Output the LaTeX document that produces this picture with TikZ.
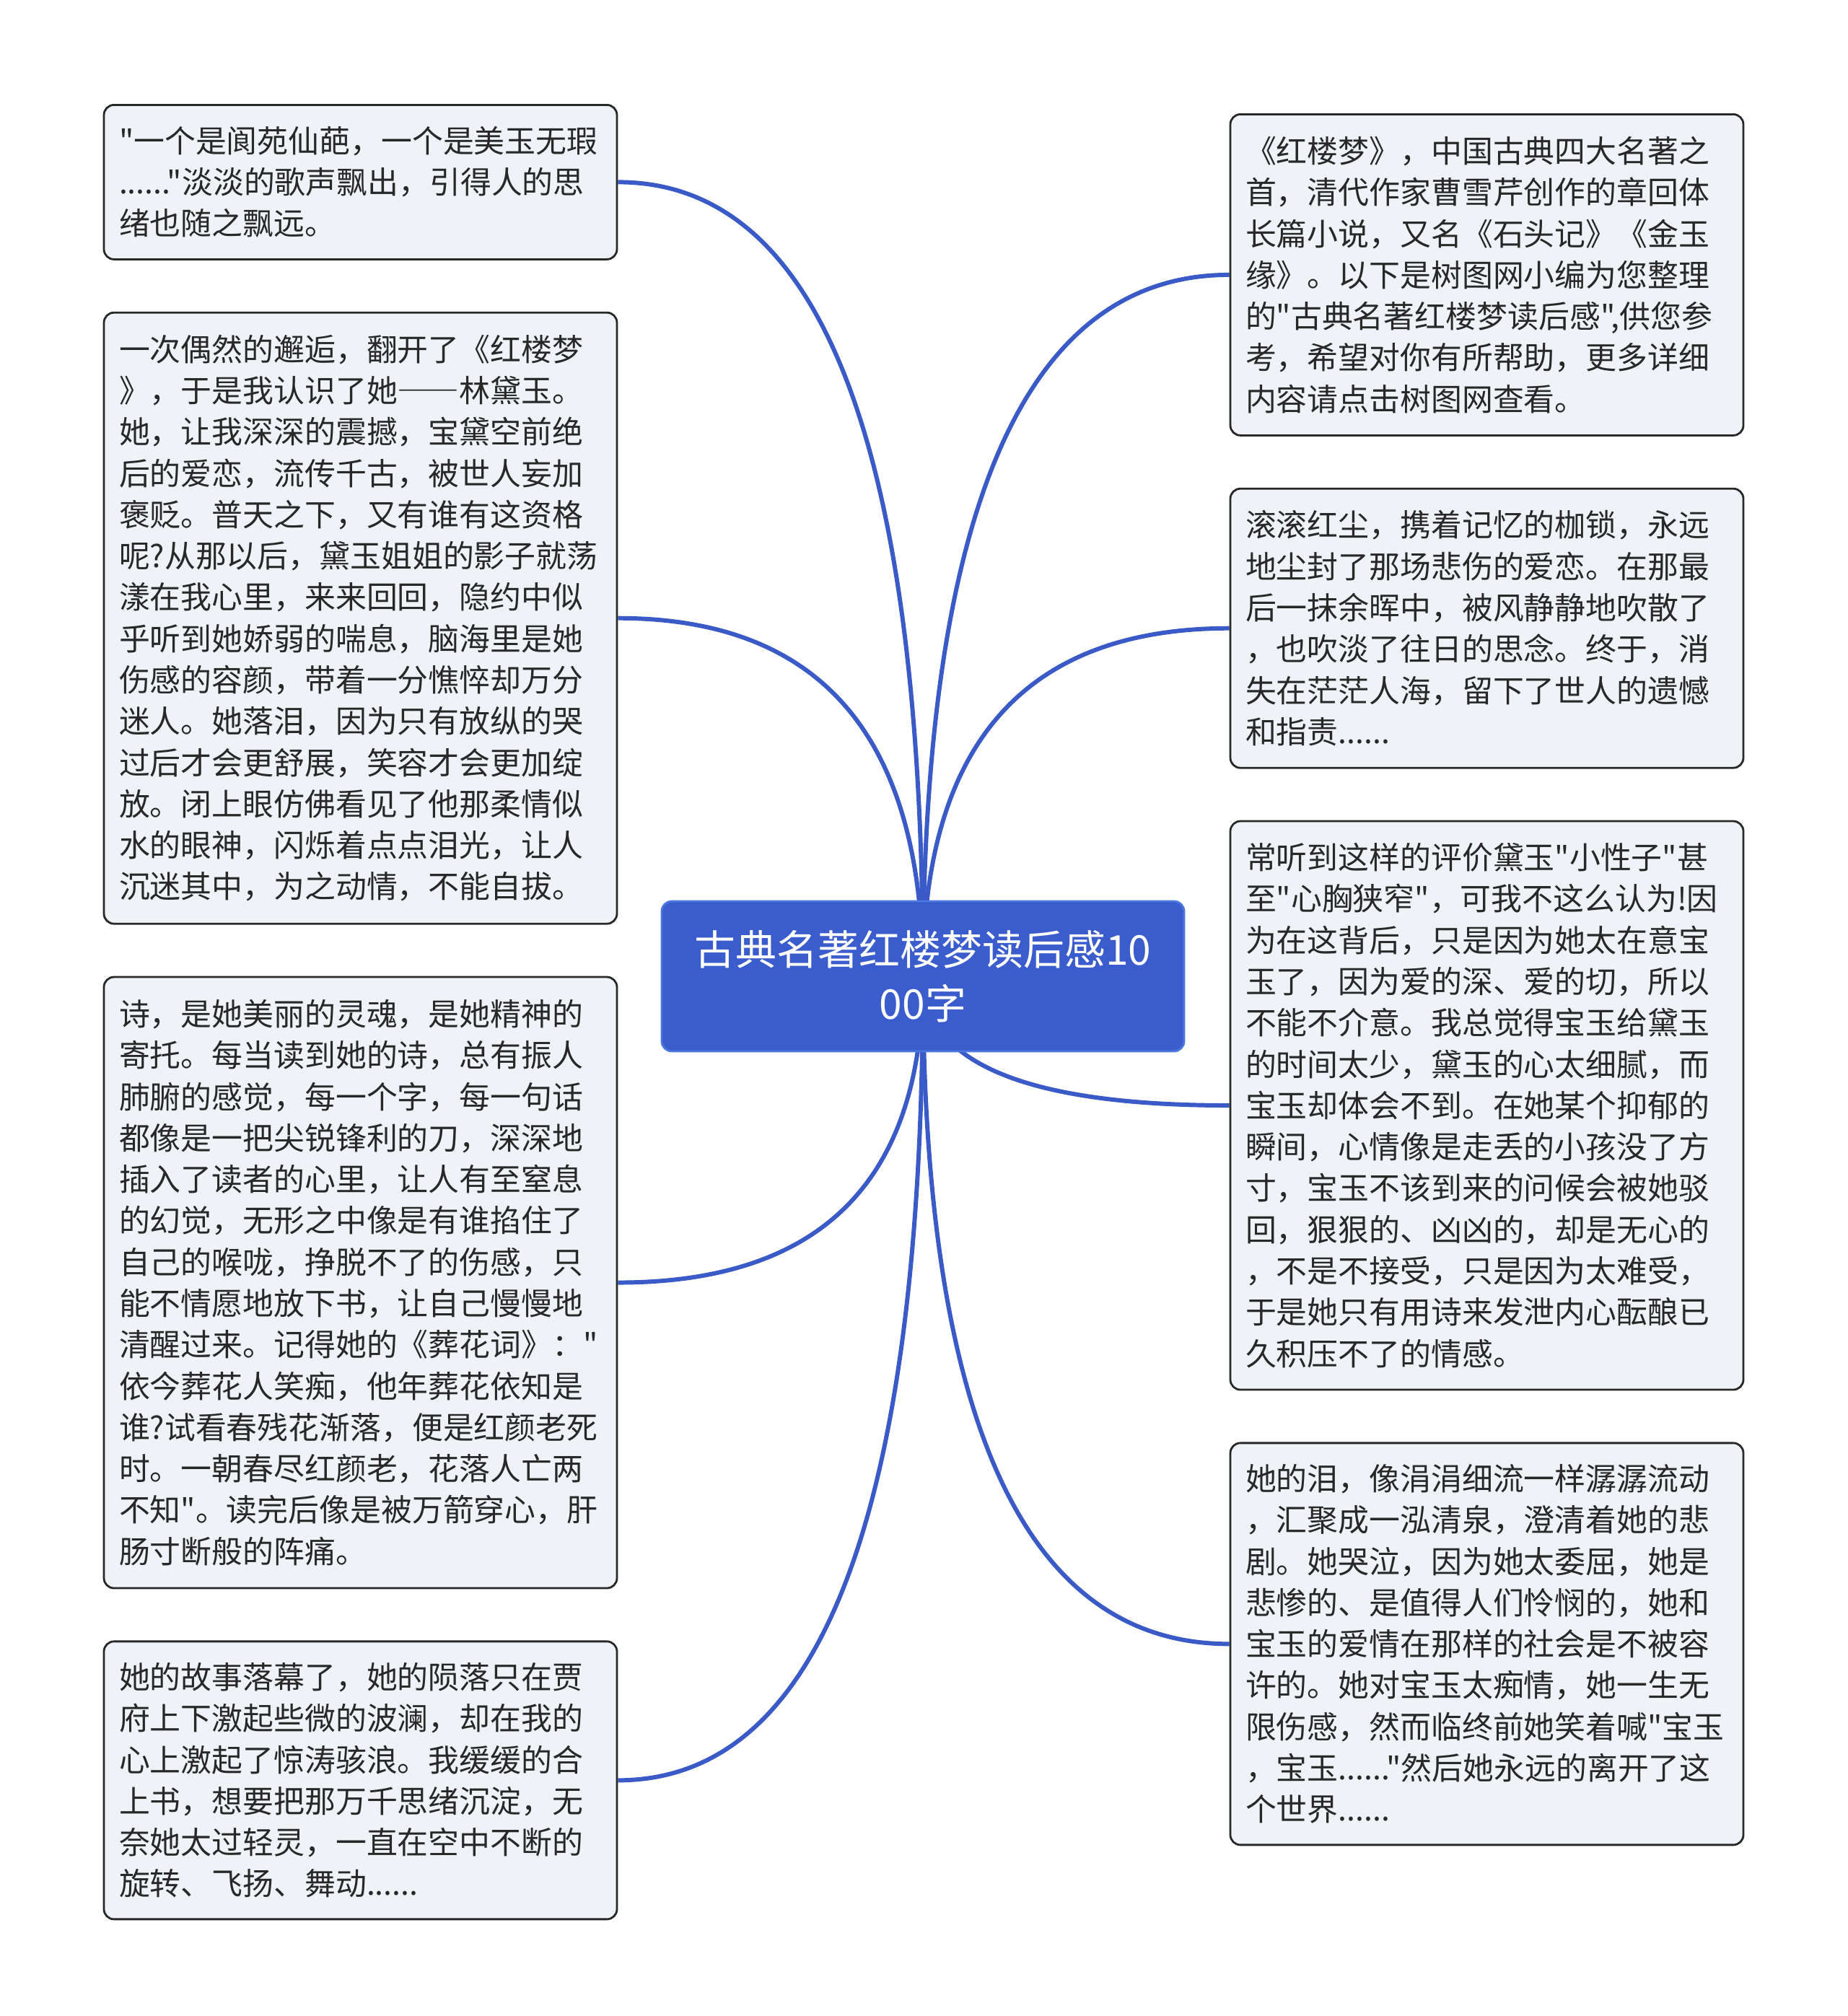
\documentclass[tikz,border=0pt]{standalone}
\usepackage{fontspec}
\setmainfont{Noto Sans CJK SC}[Ligatures=TeXOff]
\usetikzlibrary{positioning,calc,backgrounds}
\definecolor{topicblue}{RGB}{59,92,204}
\definecolor{topicedge}{RGB}{74,120,224}
\definecolor{linkblue}{RGB}{58,90,200}
\definecolor{notefill}{RGB}{239,242,246}
\definecolor{noteline}{RGB}{40,40,40}
\definecolor{ink}{RGB}{40,40,40}
\newcommand{\widedash}{{\addfontfeature{CharacterWidth=Full}——}}

\begin{document}
\begin{tikzpicture}[node distance=7.1mm,
  note/.style={draw=noteline,line width=0.8pt,rounded corners=1.4mm,fill=notefill,text=ink,
    font=\fontsize{12.2pt}{16.3pt}\selectfont,align=left,text width=66.9mm,inner xsep=2.1mm,inner ysep=0pt,anchor=north},
  topic/.style={draw=topicedge,line width=0.8pt,rounded corners=1.4mm,fill=topicblue,text=white,
    font=\fontsize{16.2pt}{21.3pt}\selectfont,align=center,minimum width=72.4mm,minimum height=20.8mm},
  branch/.style={draw=linkblue,line width=1.7pt}]
\useasboundingbox (0,0) rectangle (25.6,-27.94);

\node[topic] (topic) at (12.79,-13.53) {古典名著红楼梦读后感10\\00字};

% left column
\node[note,minimum height=21.4mm] (l1) at (4.995,-1.44) {"一个是阆苑仙葩，一个是美玉无瑕\\......"淡淡的歌声飘出，引得人的思\\绪也随之飘远。};
\node[note,minimum height=84.7mm,below=of l1] (l2) {一次偶然的邂逅，翻开了《红楼梦\\》，于是我认识了她\widedash 林黛玉。\\她，让我深深的震撼，宝黛空前绝\\后的爱恋，流传千古，被世人妄加\\褒贬。普天之下，又有谁有这资格\\呢?从那以后，黛玉姐姐的影子就荡\\漾在我心里，来来回回，隐约中似\\乎听到她娇弱的喘息，脑海里是她\\伤感的容颜，带着一分憔悴却万分\\迷人。她落泪，因为只有放纵的哭\\过后才会更舒展，笑容才会更加绽\\放。闭上眼仿佛看见了他那柔情似\\水的眼神，闪烁着点点泪光，让人\\沉迷其中，为之动情，不能自拔。};
\node[note,minimum height=84.7mm,below=of l2] (l3) {诗，是她美丽的灵魂，是她精神的\\寄托。每当读到她的诗，总有振人\\肺腑的感觉，每一个字，每一句话\\都像是一把尖锐锋利的刀，深深地\\插入了读者的心里，让人有至窒息\\的幻觉，无形之中像是有谁掐住了\\自己的喉咙，挣脱不了的伤感，只\\能不情愿地放下书，让自己慢慢地\\清醒过来。记得她的《葬花词》："\\依今葬花人笑痴，他年葬花依知是\\谁?试看春残花渐落，便是红颜老死\\时。一朝春尽红颜老，花落人亡两\\不知"。读完后像是被万箭穿心，肝\\肠寸断般的阵痛。};
\node[note,minimum height=38.5mm,below=of l3] (l4) {她的故事落幕了，她的陨落只在贾\\府上下激起些微的波澜，却在我的\\心上激起了惊涛骇浪。我缓缓的合\\上书，想要把那万千思绪沉淀，无\\奈她太过轻灵，一直在空中不断的\\旋转、飞扬、舞动......};

% right column
\node[note,minimum height=44.5mm] (r1) at (20.605,-1.57) {《红楼梦》，中国古典四大名著之\\首，清代作家曹雪芹创作的章回体\\长篇小说，又名《石头记》《金玉\\缘》。以下是树图网小编为您整理\\的"古典名著红楼梦读后感",供您参\\考，希望对你有所帮助，更多详细\\内容请点击树图网查看。};
\node[note,minimum height=38.7mm,below=of r1] (r2) {滚滚红尘，携着记忆的枷锁，永远\\地尘封了那场悲伤的爱恋。在那最\\后一抹余晖中，被风静静地吹散了\\，也吹淡了往日的思念。终于，消\\失在茫茫人海，留下了世人的遗憾\\和指责......};
\node[note,minimum height=78.8mm,below=of r2] (r3) {常听到这样的评价黛玉"小性子"甚\\至"心胸狭窄"，可我不这么认为!因\\为在这背后，只是因为她太在意宝\\玉了，因为爱的深、爱的切，所以\\不能不介意。我总觉得宝玉给黛玉\\的时间太少，黛玉的心太细腻，而\\宝玉却体会不到。在她某个抑郁的\\瞬间，心情像是走丢的小孩没了方\\寸，宝玉不该到来的问候会被她驳\\回，狠狠的、凶凶的，却是无心的\\，不是不接受，只是因为太难受，\\于是她只有用诗来发泄内心酝酿已\\久积压不了的情感。};
\node[note,minimum height=55.7mm,below=of r3] (r4) {她的泪，像涓涓细流一样潺潺流动\\，汇聚成一泓清泉，澄清着她的悲\\剧。她哭泣，因为她太委屈，她是\\悲惨的、是值得人们怜悯的，她和\\宝玉的爱情在那样的社会是不被容\\许的。她对宝玉太痴情，她一生无\\限伤感，然而临终前她笑着喊"宝玉\\，宝玉......"然后她永远的离开了这\\个世界......};

% curved links from the topic
\begin{scope}[on background layer]
\foreach \n in {l1,l2,l3,l4}
  \draw[branch] (topic.center) .. controls ($(topic.center)!.667!(topic.center |- \n.east)$) and ($(\n.east)!.667!(topic.center |- \n.east)$) .. (\n.east);
\foreach \n in {r1,r2,r3,r4}
  \draw[branch] (topic.center) .. controls ($(topic.center)!.667!(topic.center |- \n.west)$) and ($(\n.west)!.667!(topic.center |- \n.west)$) .. (\n.west);
\end{scope}
\end{tikzpicture}
\end{document}
